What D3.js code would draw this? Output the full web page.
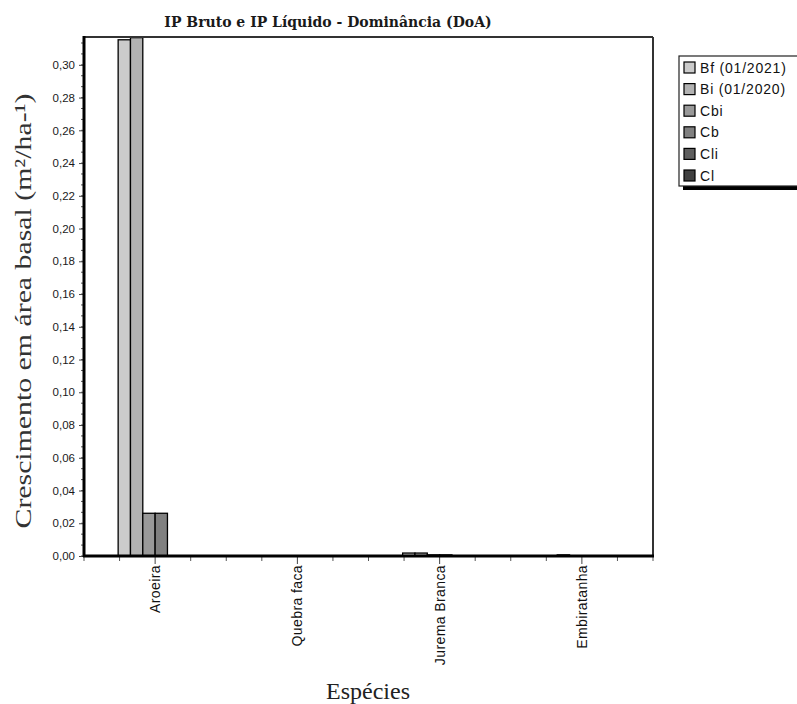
<!DOCTYPE html>
<html>
<head>
<meta charset="utf-8">
<script src="https://d3js.org/d3.v7.min.js"></script>
<style>
  body { margin: 0; background: #fff; }
  text { font-family: "Liberation Sans", Arial, sans-serif; }
</style>
</head>
<body>
<script>
// data
var species = ["Aroeira", "Quebra faca", "Jurema Branca", "Embiratanha"];
var seriesNames = ["Bf (01/2021)", "Bi (01/2020)", "Cbi", "Cb", "Cli", "Cl"];
var seriesColors = ["#cbcbcb", "#b2b2b2", "#999999", "#808080", "#5e5e5e", "#404040"];
var bf  = [0.3153, 0, 0.0018, 0];
var bi  = [0.3166, 0, 0.0018, 0.0007];
var cbi = [0.0261, 0, 0.0007, 0];
var cb  = [0.0261, 0, 0.0007, 0];
var cli = [0, 0, 0, 0];
var cl  = [0, 0, 0, 0];
var yTicks = [0, 0.02, 0.04, 0.06, 0.08, 0.10, 0.12, 0.14, 0.16, 0.18, 0.20, 0.22, 0.24, 0.26, 0.28, 0.30];

var allSeries = [bf, bi, cbi, cb, cli, cl];

var W = 797, H = 704;
var pLeft = 84, pRight = 653, pTop = 37, pBottom = 556;

var svg = d3.select("body").append("svg").attr("width", W).attr("height", H);

var x0 = d3.scaleBand().domain(species).range([pLeft, pRight]).padding(0);
var x1 = d3.scaleBand().domain(seriesNames).range([0, x0.bandwidth()]).paddingOuter(2.77).paddingInner(0);
var y = d3.scaleLinear().domain([0, 0.317]).range([pBottom, pTop]);

var loc = d3.formatLocale({decimal: ",", thousands: ".", grouping: [3], currency: ["", ""]});
var fmt = loc.format(".2f");

// bars
var rows = [];
species.forEach(function(s, i) {
  seriesNames.forEach(function(n, j) {
    if (allSeries[j][i] > 0) rows.push({s: s, n: n, v: allSeries[j][i], c: seriesColors[j]});
  });
});

svg.append("g").selectAll("rect").data(rows).enter().append("rect")
  .attr("x", function(d) { return x0(d.s) + x1(d.n); })
  .attr("y", function(d) { return y(d.v); })
  .attr("width", x1.bandwidth())
  .attr("height", function(d) { return pBottom - y(d.v); })
  .style("fill", function(d) { return d.c; })
  .style("stroke", "#000")
  .style("stroke-width", 1.3);

// frame: top and right
svg.append("line").attr("x1", pLeft).attr("x2", pRight).attr("y1", pTop).attr("y2", pTop)
  .style("stroke", "#333").style("stroke-width", 2);
svg.append("line").attr("x1", pRight).attr("x2", pRight).attr("y1", pTop).attr("y2", pBottom)
  .style("stroke", "#333").style("stroke-width", 2);

// y axis
var yAxis = d3.axisLeft(y).tickValues(yTicks).tickFormat(fmt).tickSize(5).tickPadding(4);
var gy = svg.append("g").attr("transform", "translate(" + pLeft + ",0)").call(yAxis);
gy.select(".domain").remove();
gy.selectAll("text").style("font-size", "11.5px").style("fill", "#1a1a1a");
gy.selectAll("line").style("stroke", "#444");
var yMinor = d3.range(0, 0.317, 0.02 / 3);
svg.append("g").selectAll("line").data(yMinor).enter().append("line")
  .attr("x1", pLeft - 3).attr("x2", pLeft)
  .attr("y1", function(d) { return y(d); }).attr("y2", function(d) { return y(d); })
  .style("stroke", "#555");
svg.append("line").attr("x1", pLeft).attr("x2", pLeft).attr("y1", pTop - 1).attr("y2", pBottom + 1)
  .style("stroke", "#000").style("stroke-width", 3);

// x axis
var xAxis = d3.axisBottom(x0).tickSize(8).tickPadding(4);
var gx = svg.append("g").attr("transform", "translate(0," + pBottom + ")").call(xAxis);
gx.select(".domain").remove();
gx.selectAll("line").style("stroke", "#444");
gx.selectAll("text")
  .style("font-size", "14px").style("letter-spacing", "0.4px").style("fill", "#111")
  .attr("transform", "rotate(-90)")
  .attr("x", -9).attr("y", 0).attr("dy", "0.35em")
  .style("text-anchor", "end");
var xMinor = [];
species.forEach(function(s) {
  var b = x0(s), w = x0.bandwidth();
  xMinor.push(b, b + w / 4, b + 3 * w / 4);
});
xMinor.push(pRight);
svg.append("g").selectAll("line").data(xMinor).enter().append("line")
  .attr("x1", function(d) { return d; }).attr("x2", function(d) { return d; })
  .attr("y1", pBottom).attr("y2", pBottom + 5)
  .style("stroke", "#555");
svg.append("line").attr("x1", pLeft - 1).attr("x2", pRight + 1).attr("y1", pBottom).attr("y2", pBottom)
  .style("stroke", "#000").style("stroke-width", 3);

// titles
svg.append("text").attr("x", 328).attr("y", 27).attr("text-anchor", "middle")
  .style("font-family", "'DejaVu Serif', serif").style("font-weight", "bold")
  .style("font-size", "14px").style("fill", "#1a1a1a")
  .text("IP Bruto e IP Líquido - Dominância (DoA)");

svg.append("text").attr("x", 368).attr("y", 699).attr("text-anchor", "middle")
  .style("font-family", "'Liberation Serif', 'Times New Roman', serif")
  .style("font-size", "24px").style("fill", "#222")
  .text("Espécies");

svg.append("text").attr("transform", "translate(31,311) rotate(-90)").attr("text-anchor", "middle")
  .style("font-family", "'Liberation Serif', 'Times New Roman', serif")
  .style("font-size", "23px").style("fill", "#333")
  .attr("textLength", 435).attr("lengthAdjust", "spacingAndGlyphs")
  .text("Crescimento em área basal (m²/ha-¹)");

// legend
var lg = svg.append("g");
lg.append("rect").attr("x", 683).attr("y", 60).attr("width", 120).attr("height", 130).style("fill", "#000");
lg.append("rect").attr("x", 679).attr("y", 56).attr("width", 120).attr("height", 130)
  .style("fill", "#fff").style("stroke", "#222").style("stroke-width", 1.2);
var items = lg.selectAll("g.item").data(seriesNames).enter().append("g")
  .attr("transform", function(d, i) { return "translate(684," + (62 + i * 21.6) + ")"; });
items.append("rect").attr("width", 11).attr("height", 11)
  .style("fill", function(d, i) { return seriesColors[i]; })
  .style("stroke", "#000").style("stroke-width", 1.2);
items.append("text").attr("x", 16).attr("y", 10.5).style("font-size", "14px")
  .style("letter-spacing", "0.8px").style("fill", "#111")
  .text(function(d) { return d; });
</script>
</body>
</html>
